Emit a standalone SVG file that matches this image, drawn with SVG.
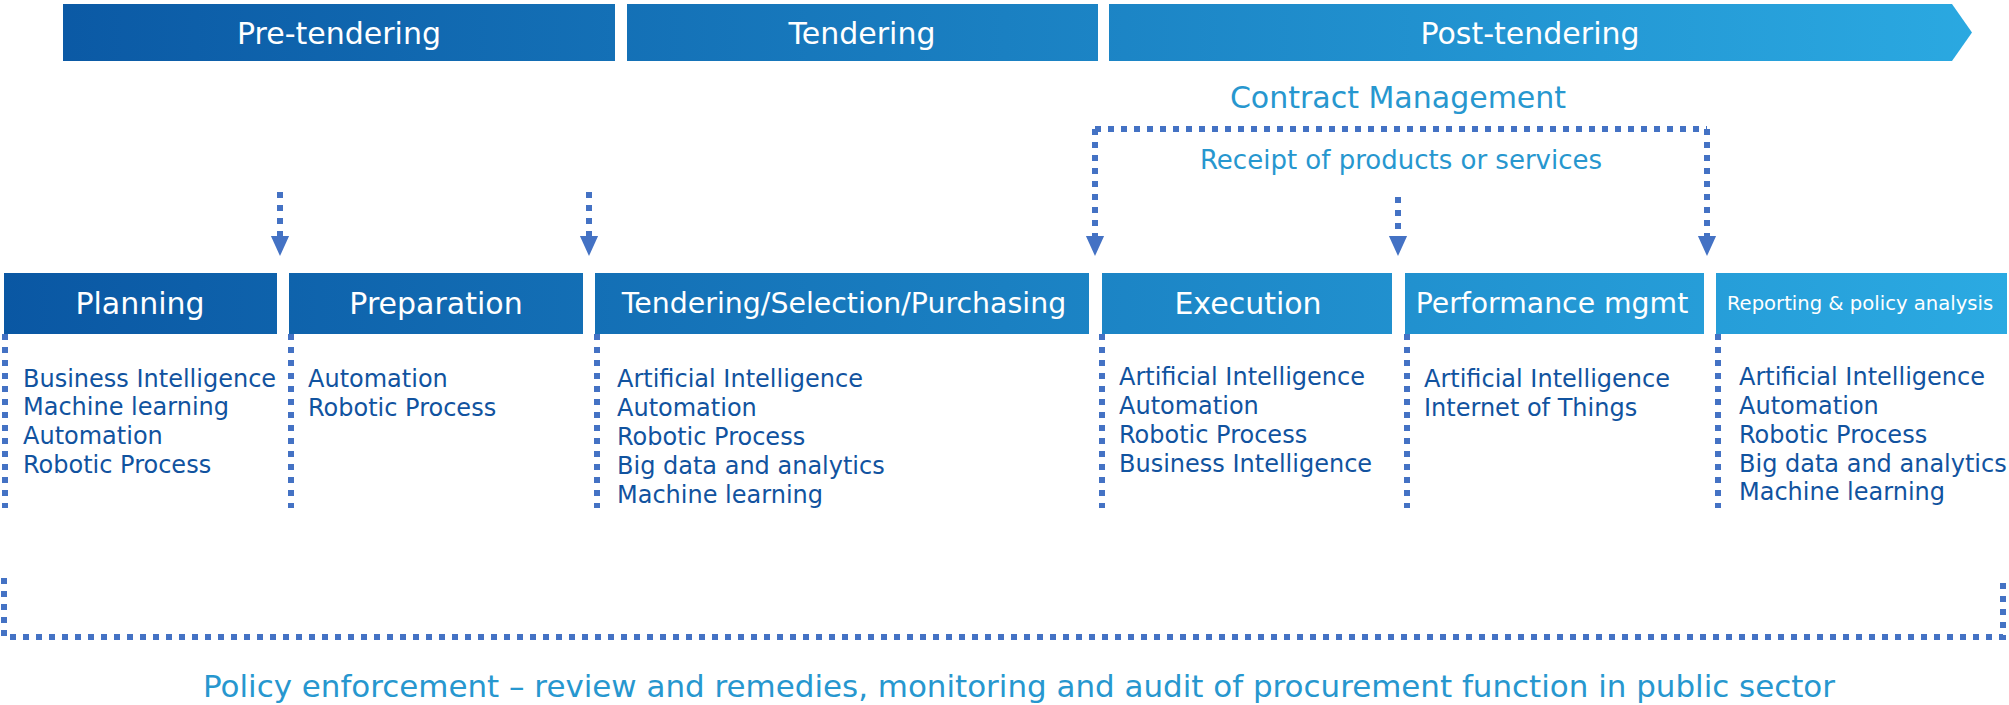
<svg xmlns="http://www.w3.org/2000/svg" width="2009" height="705" viewBox="0 0 2009 705">
<style>
.bar{fill:url(#g)}
.hd{font-family:"DejaVu Sans",Verdana,sans-serif;fill:#ffffff;text-anchor:middle}
.li{font-family:"DejaVu Sans",Verdana,sans-serif;font-size:24px;fill:#11539F}
.lb{font-family:"DejaVu Sans",Verdana,sans-serif;fill:#2797CF;text-anchor:middle}
.dot{fill:none;stroke:#4472C4;stroke-width:6;stroke-dasharray:6 7}
</style>
<defs>
<linearGradient id="g" gradientUnits="userSpaceOnUse" x1="0" y1="0" x2="2009" y2="0">
<stop offset="0" stop-color="#0A57A3"/>
<stop offset="0.5" stop-color="#1A80C2"/>
<stop offset="1" stop-color="#2BAAE2"/>
</linearGradient>
<marker id="ah" markerUnits="userSpaceOnUse" markerWidth="20" markerHeight="22" viewBox="0 0 22 20" refX="0" refY="10" orient="auto">
<path d="M0,0 L22,10 L0,20 Z" fill="#4472C4"/>
</marker>
</defs>

<g id="phase-pre">
<rect class="bar" x="63" y="4" width="552" height="57"/>
<text class="hd" x="339" y="44" font-size="30">Pre-tendering</text>
</g>
<g id="phase-tender">
<rect class="bar" x="627" y="4" width="471" height="57"/>
<text class="hd" x="862" y="44" font-size="30">Tendering</text>
</g>
<g id="phase-post">
<polygon class="bar" points="1109,4 1952,4 1972,32.5 1952,61 1109,61"/>
<text class="hd" x="1530" y="44" font-size="30">Post-tendering</text>
</g>

<g id="contract-mgmt">
<text class="lb" x="1398" y="108" font-size="30">Contract Management</text>
<text class="lb" x="1401" y="169" font-size="26">Receipt of products or services</text>
</g>

<g id="planning">
<rect class="bar" x="4" y="273" width="273" height="61"/>
<text class="hd" x="140" y="314" font-size="30">Planning</text>
<text class="li" x="23" y="387">Business Intelligence</text>
<text class="li" x="23" y="415">Machine learning</text>
<text class="li" x="23" y="444">Automation</text>
<text class="li" x="23" y="473">Robotic Process</text>
</g>
<g id="preparation">
<rect class="bar" x="289" y="273" width="294" height="61"/>
<text class="hd" x="436" y="314" font-size="30">Preparation</text>
<text class="li" x="308" y="387">Automation</text>
<text class="li" x="308" y="416">Robotic Process</text>
</g>
<g id="tendering">
<rect class="bar" x="595" y="273" width="494" height="61"/>
<text class="hd" x="844" y="313" font-size="28.4">Tendering/Selection/Purchasing</text>
<text class="li" x="617" y="387">Artificial Intelligence</text>
<text class="li" x="617" y="416">Automation</text>
<text class="li" x="617" y="445">Robotic Process</text>
<text class="li" x="617" y="474">Big data and analytics</text>
<text class="li" x="617" y="503">Machine learning</text>
</g>
<g id="execution">
<rect class="bar" x="1102" y="273" width="290" height="61"/>
<text class="hd" x="1248" y="314" font-size="30">Execution</text>
<text class="li" x="1119" y="385">Artificial Intelligence</text>
<text class="li" x="1119" y="414">Automation</text>
<text class="li" x="1119" y="443">Robotic Process</text>
<text class="li" x="1119" y="472">Business Intelligence</text>
</g>
<g id="performance">
<rect class="bar" x="1405" y="273" width="299" height="61"/>
<text class="hd" x="1552" y="313" font-size="28.3">Performance mgmt</text>
<text class="li" x="1424" y="387">Artificial Intelligence</text>
<text class="li" x="1424" y="416">Internet of Things</text>
</g>
<g id="reporting">
<rect class="bar" x="1716" y="273" width="291" height="61"/>
<text class="hd" x="1860" y="310" font-size="19.6">Reporting &amp; policy analysis</text>
<text class="li" x="1739" y="385">Artificial Intelligence</text>
<text class="li" x="1739" y="414">Automation</text>
<text class="li" x="1739" y="443">Robotic Process</text>
<text class="li" x="1739" y="472">Big data and analytics</text>
<text class="li" x="1739" y="500">Machine learning</text>
</g>

<g id="policy">
<text class="lb" x="1019" y="697" font-size="30.5" textLength="1632" lengthAdjust="spacingAndGlyphs">Policy enforcement – review and remedies, monitoring and audit of procurement function in public sector</text>
</g>

<g id="connectors">
<path class="dot" d="M280,192 V236" marker-end="url(#ah)"/>
<path class="dot" d="M589,192 V236" marker-end="url(#ah)"/>
<path class="dot" d="M1095,129 H1707"/>
<path class="dot" d="M1095,129 V236" marker-end="url(#ah)"/>
<path class="dot" d="M1398,197 V236" marker-end="url(#ah)"/>
<path class="dot" d="M1707,129 V236" marker-end="url(#ah)"/>
<path class="dot" d="M5,334 V508"/>
<path class="dot" d="M291,334 V508"/>
<path class="dot" d="M597,334 V508"/>
<path class="dot" d="M1102,334 V508"/>
<path class="dot" d="M1407,334 V508"/>
<path class="dot" d="M1718,334 V508"/>
<path class="dot" d="M4,578 V637 H2003 V578"/>
</g>
</svg>
